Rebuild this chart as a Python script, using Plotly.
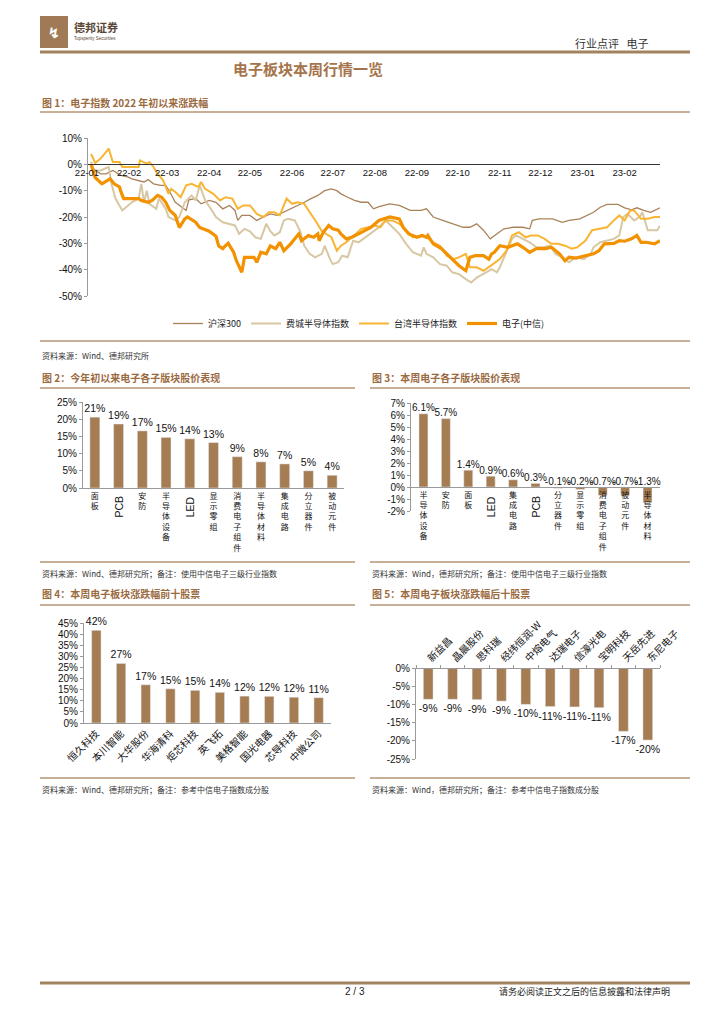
import plotly.graph_objects as go

# The page body adds an 8px offset; the figure is sized to fit the remaining window
OFF = 8
W, H = 724 - OFF, 1024 - OFF
def fx(p): return (p - OFF) / W
def fy(p): return 1 - (p - OFF) / H

BROWN = "#A67C52"
CAP = "#9B6A3F"
RULE = "#B69574"
FONT_CN = "Noto Sans CJK SC, sans-serif"
FONT_NUM = "Liberation Sans, Arial, Noto Sans CJK SC, sans-serif"

# ---------------- Figure 1 data ----------------
hs300_dates = ["2022-01-04","2022-01-11","2022-01-15","2022-01-20","2022-01-26","2022-01-31","2022-02-03","2022-02-08",
               "2022-02-12","2022-02-15","2022-02-19","2022-02-24","2022-02-28","2022-03-03","2022-03-07","2022-03-10",
               "2022-03-15","2022-03-17","2022-03-22","2022-03-26","2022-04-01","2022-04-06","2022-04-11","2022-04-16",
               "2022-04-20","2022-04-22","2022-04-25","2022-05-01","2022-05-06","2022-05-11","2022-05-16","2022-05-21",
               "2022-05-26","2022-05-31","2022-06-05","2022-06-10","2022-06-15","2022-06-20","2022-06-25","2022-06-30",
               "2022-07-04","2022-07-07","2022-07-12","2022-07-17","2022-07-22","2022-07-27","2022-07-31","2022-08-04",
               "2022-08-12","2022-08-19","2022-08-27","2022-09-04","2022-09-08","2022-09-13","2022-09-20","2022-09-28",
               "2022-10-05","2022-10-10","2022-10-15","2022-10-20","2022-10-25","2022-10-30","2022-11-04","2022-11-11",
               "2022-11-18","2022-11-23","2022-11-25","2022-11-30","2022-12-05","2022-12-10","2022-12-17","2022-12-22",
               "2022-12-30","2023-01-04","2023-01-09","2023-01-14","2023-01-19","2023-01-27","2023-02-01","2023-02-06",
               "2023-02-10","2023-02-15","2023-02-20","2023-02-27"]
hs300_vals = [-1.0,-3.6,-3.6,-2.3,-4.2,-4.8,-5.5,-6.1,
              -6.7,-5.8,-7.4,-8.0,-8.0,-10.5,-14.4,-15.5,
              -17.5,-13.5,-13.0,-15.0,-13.7,-14.4,-16.9,-15.6,
              -17.5,-21.3,-19.4,-19.4,-21.3,-20.0,-18.8,-19.4,
              -18.2,-16.9,-15.6,-14.4,-13.0,-11.8,-10.0,-9.3,
              -10.0,-11.2,-12.5,-13.7,-14.4,-14.4,-16.9,-16.1,
              -15.0,-15.6,-17.5,-17.5,-16.9,-20.0,-21.3,-22.6,
              -23.9,-23.9,-22.6,-25.0,-28.3,-26.4,-24.5,-23.9,
              -23.9,-24.5,-21.3,-20.7,-20.7,-20.7,-22.0,-21.3,
              -20.7,-19.4,-18.2,-16.3,-15.2,-15.2,-16.5,-17.3,
              -16.5,-17.5,-18.2,-16.5]

sox_dates = ["2022-01-04","2022-01-06","2022-01-11","2022-01-14","2022-01-17","2022-01-19","2022-01-22","2022-01-27",
             "2022-01-31","2022-02-03","2022-02-08","2022-02-10","2022-02-12","2022-02-14","2022-02-16","2022-02-21",
             "2022-02-23","2022-02-25","2022-02-28","2022-03-02","2022-03-07","2022-03-10","2022-03-14","2022-03-19",
             "2022-03-22","2022-03-25","2022-03-29","2022-04-03","2022-04-06","2022-04-11","2022-04-16","2022-04-20",
             "2022-04-23","2022-04-27","2022-05-01","2022-05-05","2022-05-09","2022-05-13","2022-05-16","2022-05-19",
             "2022-05-23","2022-05-26","2022-05-29","2022-06-03","2022-06-07","2022-06-10","2022-06-14","2022-06-18",
             "2022-06-23","2022-06-25","2022-06-29","2022-07-01","2022-07-05","2022-07-08","2022-07-12","2022-07-16",
             "2022-07-20","2022-07-25","2022-07-30","2022-08-04","2022-08-09","2022-08-14","2022-08-19","2022-08-24",
             "2022-08-29","2022-09-04","2022-09-06","2022-09-08","2022-09-13","2022-09-18","2022-09-23","2022-09-27",
             "2022-10-02","2022-10-07","2022-10-11","2022-10-15","2022-10-20","2022-10-22","2022-10-26","2022-10-30",
             "2022-11-01","2022-11-06","2022-11-10","2022-11-13","2022-11-18","2022-11-23","2022-11-28","2022-12-03",
             "2022-12-08","2022-12-12","2022-12-17","2022-12-22","2022-12-27","2023-01-02","2023-01-07","2023-01-09",
             "2023-01-14","2023-01-19","2023-01-24","2023-01-28","2023-01-31","2023-02-03","2023-02-08","2023-02-12",
             "2023-02-14","2023-02-18","2023-02-20","2023-02-25","2023-02-27"]
sox_vals = [1.0,-2.3,-2.3,-1.6,-1.0,-7.4,-13.0,-17.5,
            -15.6,-14.4,-13.0,-7.4,-14.4,-10.0,-15.0,-16.9,
            -13.0,-14.4,-16.9,-20.0,-21.3,-20.0,-14.4,-11.8,
            -13.7,-8.0,-13.7,-17.5,-20.0,-22.0,-22.6,-23.2,
            -26.4,-24.5,-25.4,-27.7,-28.3,-22.6,-25.4,-27.0,
            -25.8,-21.3,-20.7,-21.3,-25.4,-30.9,-34.0,-35.3,
            -34.0,-30.9,-36.0,-37.9,-37.2,-34.7,-35.3,-29.0,
            -29.6,-27.7,-25.8,-23.9,-21.3,-23.9,-26.4,-30.2,
            -33.4,-34.7,-31.5,-34.0,-35.3,-37.9,-38.5,-41.0,
            -41.7,-43.6,-44.9,-43.0,-41.7,-41.0,-39.8,-41.0,
            -39.1,-33.4,-28.3,-27.0,-28.3,-29.6,-31.5,-31.5,
            -30.9,-34.0,-35.3,-37.2,-35.3,-36.0,-34.0,-31.5,
            -29.6,-29.0,-28.3,-27.0,-20.0,-18.8,-21.3,-20.0,
            -18.2,-25.0,-25.0,-25.0,-23.3]

tw_dates = ["2022-01-04","2022-01-07","2022-01-11","2022-01-14","2022-01-17","2022-01-20","2022-01-25","2022-01-27",
            "2022-02-08","2022-02-09","2022-02-14","2022-02-16","2022-02-19","2022-02-22","2022-02-26","2022-03-02",
            "2022-03-04","2022-03-07","2022-03-11","2022-03-15","2022-03-19","2022-03-24","2022-03-26","2022-03-29",
            "2022-04-04","2022-04-09","2022-04-13","2022-04-18","2022-04-22","2022-04-26","2022-05-01","2022-05-06",
            "2022-05-11","2022-05-15","2022-05-19","2022-05-23","2022-05-28","2022-06-01","2022-06-05","2022-06-10",
            "2022-06-15","2022-06-19","2022-06-23","2022-06-26","2022-06-30","2022-07-04","2022-07-07","2022-07-11",
            "2022-07-15","2022-07-18","2022-07-22","2022-07-27","2022-08-01","2022-08-05","2022-08-09","2022-08-14",
            "2022-08-19","2022-08-24","2022-08-29","2022-09-04","2022-09-08","2022-09-13","2022-09-18","2022-09-23",
            "2022-09-28","2022-10-02","2022-10-07","2022-10-10","2022-10-15","2022-10-20","2022-10-24","2022-10-27",
            "2022-11-01","2022-11-06","2022-11-10","2022-11-15","2022-11-20","2022-11-24","2022-11-29","2022-12-04",
            "2022-12-09","2022-12-14","2022-12-19","2022-12-24","2022-12-28","2023-01-03","2023-01-08","2023-01-13",
            "2023-01-19","2023-01-24","2023-01-28","2023-02-01","2023-02-05","2023-02-08","2023-02-13","2023-02-18",
            "2023-02-23","2023-02-27"]
tw_vals = [4.0,0.5,2.2,4.0,6.0,0.9,0.9,-1.0,
           -1.0,1.5,0.3,0.9,-1.0,-3.6,-6.0,-11.2,
           -9.3,-10.5,-12.5,-8.0,-7.4,-8.6,-6.7,-9.3,
           -11.2,-13.7,-12.5,-13.0,-16.9,-15.6,-15.6,-18.8,
           -20.0,-18.2,-18.2,-19.4,-13.0,-15.0,-14.4,-15.0,
           -18.8,-22.0,-25.4,-26.4,-27.7,-32.8,-30.9,-29.6,
           -27.7,-26.4,-24.5,-23.9,-23.2,-23.9,-21.3,-21.3,
           -22.6,-25.0,-27.7,-27.0,-27.7,-29.6,-30.9,-34.7,
           -36.0,-35.3,-34.0,-39.1,-39.1,-40.4,-39.1,-37.9,
           -36.0,-32.8,-27.0,-25.8,-27.7,-27.0,-27.0,-28.3,
           -30.2,-30.2,-30.9,-32.0,-31.5,-29.0,-25.0,-24.5,
           -23.9,-21.3,-19.4,-21.3,-17.5,-17.5,-20.7,-20.7,
           -20.0,-20.0]

ele_dates = ["2022-01-04","2022-01-07","2022-01-12","2022-01-14","2022-01-18","2022-01-21","2022-01-25","2022-01-26",
             "2022-01-28","2022-02-08","2022-02-10","2022-02-15","2022-02-18","2022-02-22","2022-02-25","2022-02-28",
             "2022-03-03","2022-03-07","2022-03-10","2022-03-14","2022-03-16","2022-03-22","2022-03-25","2022-04-01",
             "2022-04-06","2022-04-08","2022-04-11","2022-04-13","2022-04-15","2022-04-19","2022-04-21","2022-04-25",
             "2022-04-27","2022-05-04","2022-05-06","2022-05-09","2022-05-13","2022-05-16","2022-05-20","2022-05-23",
             "2022-05-26","2022-05-31","2022-06-06","2022-06-08","2022-06-13","2022-06-17","2022-06-20","2022-06-21",
             "2022-06-24","2022-06-28","2022-07-01","2022-07-05","2022-07-07","2022-07-11","2022-07-15","2022-07-20",
             "2022-07-25","2022-07-29","2022-08-04","2022-08-08","2022-08-12","2022-08-19","2022-08-22","2022-08-26",
             "2022-09-01","2022-09-05","2022-09-08","2022-09-09","2022-09-13","2022-09-19","2022-09-23","2022-09-28",
             "2022-10-02","2022-10-07","2022-10-10","2022-10-14","2022-10-20","2022-10-24","2022-10-26","2022-10-28",
             "2022-11-01","2022-11-07","2022-11-11","2022-11-14","2022-11-18","2022-11-23","2022-11-28","2022-12-05",
             "2022-12-09","2022-12-15","2022-12-19","2022-12-22","2022-12-27","2023-01-03","2023-01-09","2023-01-13",
             "2023-01-17","2023-01-24","2023-01-28","2023-02-01","2023-02-06","2023-02-10","2023-02-13","2023-02-17",
             "2023-02-23","2023-02-27"]
ele_vals = [0.0,-5.0,-7.4,-6.7,-5.5,-7.4,-8.6,-10.5,
            -13.0,-13.0,-13.7,-14.4,-13.7,-11.8,-12.5,-14.4,
            -17.5,-19.4,-24.0,-20.7,-20.0,-22.0,-24.0,-25.4,
            -27.3,-31.0,-32.0,-30.9,-30.0,-33.4,-36.6,-41.0,
            -35.3,-35.3,-37.2,-33.4,-34.0,-31.0,-32.0,-29.6,
            -32.8,-30.2,-26.4,-29.0,-27.0,-27.7,-26.4,-29.0,
            -25.8,-23.2,-24.5,-25.0,-26.4,-28.3,-27.7,-26.4,
            -25.2,-24.0,-21.3,-20.7,-20.0,-20.7,-24.0,-26.4,
            -27.7,-27.0,-27.7,-27.0,-30.2,-32.0,-34.0,-36.6,
            -38.5,-40.4,-35.3,-34.7,-34.7,-36.0,-34.0,-33.4,
            -30.9,-31.5,-30.9,-30.2,-31.5,-33.4,-32.0,-32.0,
            -31.5,-34.0,-36.6,-35.3,-35.6,-34.7,-34.0,-32.8,
            -30.2,-30.0,-29.0,-29.2,-28.3,-27.0,-29.6,-29.6,
            -30.2,-29.0]

series_names = ["沪深300", "费城半导体指数", "台湾半导体指数", "电子(中信)"]
y1_tickvals = [10, 0, -10, -20, -30, -40, -50]
y1_ticktext = ["10%", "0%", "-10%", "-20%", "-30%", "-40%", "-50%"]

# ---------------- Figure 2 data ----------------
cat2 = ["面板", "PCB", "安防", "半导体设备", "LED", "显示零组", "消费电子组件", "半导体材料", "集成电路", "分立器件", "被动元件"]
val2 = [20.6, 18.6, 16.6, 14.7, 14.3, 13.2, 9.1, 7.6, 7.0, 5.0, 3.7]
y2_tickvals = [0, 5, 10, 15, 20, 25]
y2_ticktext = ["0%", "5%", "10%", "15%", "20%", "25%"]

# ---------------- Figure 3 data ----------------
cat3 = ["半导体设备", "安防", "面板", "LED", "集成电路", "PCB", "分立器件", "显示零组", "消费电子组件", "被动元件", "半导体材料"]
val3 = [6.1, 5.7, 1.4, 0.9, 0.6, 0.3, -0.1, -0.2, -0.7, -0.7, -1.3]
y3_tickvals = [7, 6, 5, 4, 3, 2, 1, 0, -1, -2]
y3_ticktext = ["7%", "6%", "5%", "4%", "3%", "2%", "1%", "0%", "-1%", "-2%"]

# ---------------- Figure 4 data ----------------
cat4 = ["恒久科技", "本川智能", "大华股份", "华海清科", "炬芯科技", "英飞拓", "美格智能", "国光电器", "芯导科技", "中微公司"]
val4 = [41.7, 26.8, 17.2, 15.4, 14.7, 13.8, 12.1, 12.0, 11.6, 11.4]
y4_tickvals = [0, 5, 10, 15, 20, 25, 30, 35, 40, 45]
y4_ticktext = ["0%", "5%", "10%", "15%", "20%", "25%", "30%", "35%", "40%", "45%"]

# ---------------- Figure 5 data ----------------
cat5 = ["新益昌", "晶晨股份", "思科瑞", "经纬恒润-W", "中熔电气", "达瑞电子", "信濠光电", "宝明科技", "天岳先进", "东尼电子"]
val5 = [-8.6, -8.6, -8.7, -9.1, -10.0, -10.6, -10.7, -10.9, -17.4, -19.8]
y5_tickvals = [0, -5, -10, -15, -20, -25]
y5_ticktext = ["0%", "-5%", "-10%", "-15%", "-20%", "-25%"]


def stack(s):
    return "" if s.isascii() else "<br>".join(s)


fig = go.Figure()

# Figure 1 lines
line_styles = [("#A9825B", 1.3), ("#D8C7A3", 2.0), ("#F8B534", 2.0), ("#F39200", 3.2)]
for (dates, vals), name, (col, wd) in zip(
        [(hs300_dates, hs300_vals), (sox_dates, sox_vals), (tw_dates, tw_vals), (ele_dates, ele_vals)],
        series_names, line_styles):
    fig.add_trace(go.Scatter(x=dates, y=vals, name=name, mode="lines",
                             line=dict(color=col, width=wd), xaxis="x", yaxis="y"))

# Figure 2 bars
fig.add_trace(go.Bar(x=cat2, y=val2, marker_color=BROWN, width=0.42,
                     text=[f"{v:.0f}%" for v in val2], textposition="outside",
                     constraintext="none", cliponaxis=False,
                     textfont=dict(size=10.5, family=FONT_NUM, color="#111"),
                     xaxis="x2", yaxis="y2", showlegend=False))

# Figure 3 bars + labels
fig.add_trace(go.Bar(x=cat3, y=val3, marker_color=BROWN, width=0.4,
                     xaxis="x3", yaxis="y3", showlegend=False))
fig.add_trace(go.Scatter(x=cat3, y=[max(v, 0) for v in val3], mode="text",
                         text=[f"{v:.1f}%" for v in val3], textposition="top center",
                         textfont=dict(size=10, family=FONT_NUM, color="#111"),
                         cliponaxis=False, xaxis="x3", yaxis="y3", showlegend=False))

# Figure 4 bars
fig.add_trace(go.Bar(x=cat4, y=val4, marker_color=BROWN, width=0.38,
                     text=[f"{v:.0f}%" for v in val4], textposition="outside",
                     constraintext="none", cliponaxis=False,
                     textfont=dict(size=10.5, family=FONT_NUM, color="#111"),
                     xaxis="x4", yaxis="y4", showlegend=False))

# Figure 5 bars
fig.add_trace(go.Bar(x=cat5, y=val5, marker_color=BROWN, width=0.4,
                     text=[f"{v:.0f}%" for v in val5], textposition="outside",
                     constraintext="none", cliponaxis=False,
                     textfont=dict(size=10.5, family=FONT_NUM, color="#111"),
                     xaxis="x5", yaxis="y5", showlegend=False))

tickfont = dict(size=10, family=FONT_NUM, color="#111")
yax_common = dict(showline=True, linecolor="#9a9a9a", linewidth=1, ticks="outside", ticklen=3,
                  tickcolor="#9a9a9a", showgrid=False, zeroline=False, tickfont=tickfont, fixedrange=True,
                  automargin=False)

fig.update_layout(
    width=W, height=H, margin=dict(l=0, r=0, t=0, b=0, autoexpand=False),
    paper_bgcolor="white", plot_bgcolor="white",
    font=dict(family=FONT_CN, color="#222"),
    bargap=0.5,
    showlegend=True,
    legend=dict(orientation="h", x=fx(168), y=fy(309), xanchor="left", yanchor="top",
                font=dict(size=9, family=FONT_CN, color="#222"), itemwidth=30,
                bgcolor="rgba(0,0,0,0)"),
    # Figure 1
    xaxis=dict(domain=[fx(87), fx(660)], type="date", range=["2022-01-01", "2023-02-27"],
               tickformat="%y-%m", dtick="M1", tick0="2022-01-01", anchor="free", position=fy(164),
               showline=True, linecolor="#333", linewidth=1, ticks="", showgrid=False, zeroline=False,
               tickfont=dict(size=9.5, family=FONT_NUM, color="#111"), fixedrange=True, automargin=False),
    yaxis=dict(domain=[fy(296), fy(138)], range=[-50, 10], tickvals=y1_tickvals, ticktext=y1_ticktext,
               anchor="free", position=fx(87), **yax_common),
    # Figure 2
    xaxis2=dict(domain=[fx(83), fx(344)], anchor="y2", type="category",
                tickvals=cat2, ticktext=[stack(c) for c in cat2], tickangle=0,
                showline=True, linecolor="#9a9a9a", ticks="", showgrid=False, automargin=False,
                tickfont=dict(size=8, family=FONT_CN, color="#111"), fixedrange=True),
    yaxis2=dict(domain=[fy(488), fy(402)], anchor="x2", range=[0, 25],
                tickvals=y2_tickvals, ticktext=y2_ticktext, **yax_common),
    # Figure 3
    xaxis3=dict(domain=[fx(411), fx(660)], anchor="free", position=fy(487), type="category",
                tickvals=cat3, ticktext=[stack(c) for c in cat3], tickangle=0,
                showline=True, linecolor="#9a9a9a", ticks="", showgrid=False, automargin=False,
                tickfont=dict(size=8, family=FONT_CN, color="#111"), fixedrange=True),
    yaxis3=dict(domain=[fy(511), fy(403)], anchor="x3", range=[-2, 7],
                tickvals=y3_tickvals, ticktext=y3_ticktext, **yax_common),
    # Figure 4
    xaxis4=dict(domain=[fx(84), fx(331)], anchor="y4", type="category", tickangle=-45,
                showline=True, linecolor="#9a9a9a", ticks="", showgrid=False, automargin=False,
                tickfont=dict(size=10, family=FONT_CN, color="#111"), fixedrange=True),
    yaxis4=dict(domain=[fy(723), fy(623)], anchor="x4", range=[0, 45],
                tickvals=y4_tickvals, ticktext=y4_ticktext, **yax_common),
    # Figure 5
    xaxis5=dict(domain=[fx(416), fx(660)], anchor="free", position=fy(668), side="top", type="category",
                tickangle=-45, showline=True, linecolor="#9a9a9a", ticks="outside", ticklen=3,
                tickcolor="#9a9a9a", tickson="boundaries", showgrid=False, automargin=False,
                tickfont=dict(size=10, family=FONT_CN, color="#111"), fixedrange=True),
    yaxis5=dict(domain=[fy(759), fy(668)], anchor="x5", range=[-25, 0],
                tickvals=y5_tickvals, ticktext=y5_ticktext, **yax_common),
)

# Rotated Latin category labels (PCB / LED)
for axis, cats in (("x2", cat2), ("x3", cat3)):
    for c in cats:
        if c.isascii():
            fig.add_annotation(x=c, xref=axis, y=fy(494), yref="paper", yanchor="top",
                               text=c, textangle=-90, showarrow=False,
                               font=dict(size=10.5, family=FONT_NUM, color="#111"))

# ---------------- Page furniture ----------------
shapes = []
def hline(y, x0, x1, w, col):
    shapes.append(dict(type="line", xref="paper", yref="paper", x0=fx(x0), x1=fx(x1),
                       y0=fy(y), y1=fy(y), line=dict(color=col, width=w)))

hline(52, 40, 690, 3, "#A3825F")
hline(983, 40, 690, 3, "#A3825F")
hline(112, 40, 690, 1.5, RULE)
hline(341, 40, 690, 1.5, RULE)
for (a, b) in ((40, 355), (370, 690)):
    hline(388, a, b, 1.5, RULE)
    hline(562, a, b, 1.5, RULE)
    hline(605, a, b, 1.5, RULE)
    hline(778, a, b, 1.5, RULE)
shapes.append(dict(type="rect", xref="paper", yref="paper", x0=fx(40), x1=fx(68), y0=fy(48), y1=fy(16),
                   fillcolor="#A07A56", line=dict(width=0)))
fig.update_layout(shapes=shapes)

def note(x, y, text, size=8, color="#333", xanchor="left", bold=False, family=FONT_CN):
    fig.add_annotation(x=fx(x), y=fy(y), xref="paper", yref="paper", xanchor=xanchor, yanchor="middle",
                       text=f"<b>{text}</b>" if bold else text, showarrow=False,
                       font=dict(size=size, color=color, family=family))

# Logo text & header
note(54, 32, "<b>↯</b>", size=14, color="white", xanchor="center")
note(72, 27, "德邦证券", size=11, color="#5B4636", bold=True)
note(72, 39, "Topsperity Securities", size=4.5, color="#5B4636", family=FONT_NUM)
note(650, 43, "行业点评   电子", size=11, color="#333", xanchor="right")
note(308, 68, "电子板块本周行情一览", size=15, color="#A5744B", xanchor="center", bold=True)

# Captions
note(40, 102, "图 1：电子指数 2022 年初以来涨跌幅", size=10, color=CAP, bold=True)
note(40, 377, "图 2：今年初以来电子各子版块股价表现", size=10, color=CAP, bold=True)
note(370, 377, "图 3：本周电子各子版块股价表现", size=10, color=CAP, bold=True)
note(40, 593, "图 4：本周电子板块涨跌幅前十股票", size=10, color=CAP, bold=True)
note(370, 593, "图 5：本周电子板块涨跌幅后十股票", size=10, color=CAP, bold=True)

# Sources
note(40, 355, "资料来源：Wind、德邦研究所", size=8)
note(40, 573, "资料来源：Wind、德邦研究所；备注：使用中信电子三级行业指数", size=8)
note(370, 573, "资料来源：Wind，德邦研究所；备注：使用中信电子三级行业指数", size=8)
note(40, 789, "资料来源：Wind、德邦研究所；备注：参考中信电子指数成分股", size=8)
note(370, 789, "资料来源：Wind，德邦研究所；备注：参考中信电子指数成分股", size=8)

# Footer
note(355, 991, "2 / 3", size=10, color="#222", xanchor="center", family=FONT_NUM)
note(672, 991, "请务必阅读正文之后的信息披露和法律声明", size=9, color="#222", xanchor="right")

fig.write_html("out.html")
